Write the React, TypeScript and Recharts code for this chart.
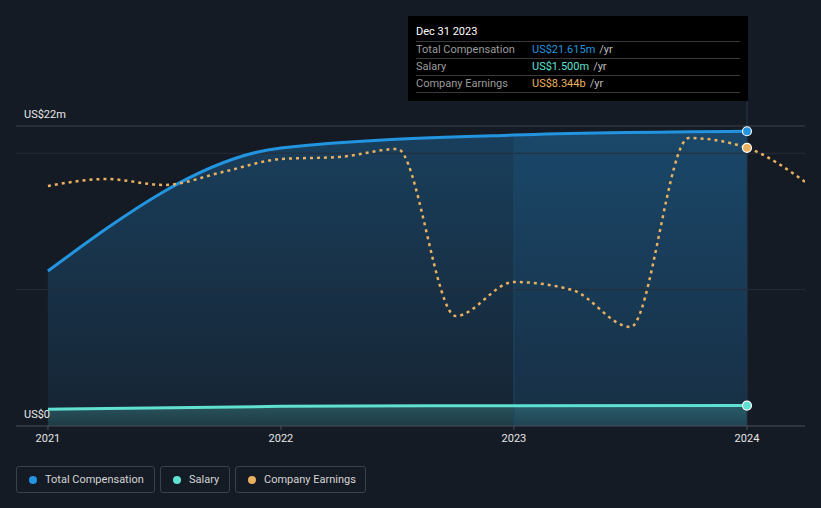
import React from "react";
import { Area, ComposedChart, Line, ReferenceLine, XAxis, YAxis } from "recharts";

// values (comp/salary in US$m, earnings in US$b)
const YEARS = [2021, 2022, 2023, 2024];
const TOTAL_COMP = [11.37, 20.39, 21.34, 21.615];
const SALARY = [1.22, 1.44, 1.49, 1.5];
const EARN_DATES = [
  2021, 2021.25, 2021.5, 2021.75, 2022, 2022.25, 2022.5, 2022.75, 2023, 2023.25, 2023.5, 2023.75, 2024, 2024.25,
];
const EARNINGS = [7.2, 7.41, 7.23, 7.62, 8.01, 8.07, 8.31, 3.3, 4.32, 4.08, 2.97, 8.64, 8.344, 7.32];
const Y_LABELS = [
  { value: 22, text: "US$22m" },
  { value: 0, text: "US$0" },
];
const HIGHLIGHT_FROM = 2023;
const LAST = 2024;

const BG = "#151b25";
const BLUE = "#2394df";
const TEAL = "#5fe0d0";
const ORANGE = "#e9b15f";
const FONT = "Roboto, sans-serif";

type Row = { x: number; comp?: number; compHi?: number; salary?: number; earnings?: number };

const data: Row[] = (() => {
  const map = new Map<number, Row>();
  const get = (x: number) => {
    if (!map.has(x)) map.set(x, { x });
    return map.get(x)!;
  };
  YEARS.forEach((y, i) => {
    const r = get(y);
    r.comp = TOTAL_COMP[i];
    r.salary = SALARY[i];
    if (y >= HIGHLIGHT_FROM) r.compHi = TOTAL_COMP[i];
  });
  EARN_DATES.forEach((d, i) => {
    get(d).earnings = EARNINGS[i];
  });
  return [...map.values()].sort((a, b) => a.x - b.x);
})();

const endDot = (color: string) => (props: any) => {
  const { cx, cy, payload, index } = props;
  if (payload?.x !== LAST || cx == null) return <g key={`d${index}`} />;
  return <circle key={`d${index}`} cx={cx} cy={cy} r={4.5} fill={color} stroke="#ffffff" strokeWidth={1.2} />;
};

// axis value label sitting just above its line, at the left of the plot
const axisLabel = (text: string) => (props: any) => {
  const { viewBox } = props;
  return (
    <text x={viewBox.x + 8} y={viewBox.y - 8} fill="#e8e8e8" fontSize={11} fontFamily={FONT}>
      {text}
    </text>
  );
};

const legendItems = [
  { label: "Total Compensation", color: BLUE, width: 139 },
  { label: "Salary", color: TEAL, width: 70 },
  { label: "Company Earnings", color: ORANGE, width: 131 },
];

const tipRows = [
  { label: "Total Compensation", value: "US$21.615m", color: BLUE },
  { label: "Salary", value: "US$1.500m", color: TEAL },
  { label: "Company Earnings", value: "US$8.344b", color: ORANGE },
];

export default function App() {
  return (
    <div style={{ position: "absolute", left: 0, top: 0, width: 821, height: 508, background: BG, fontFamily: FONT }}>
      <ComposedChart width={821} height={450} data={data} margin={{ top: 100, right: 16, left: 16, bottom: 0 }}>
        <defs>
          <linearGradient id="compGrad" x1="0" y1="0" x2="0" y2="1">
            <stop offset="0%" stopColor={BLUE} stopOpacity={0.3} />
            <stop offset="100%" stopColor={BLUE} stopOpacity={0.07} />
          </linearGradient>
          <linearGradient id="salGrad" x1="0" y1="0" x2="0" y2="1">
            <stop offset="0%" stopColor={TEAL} stopOpacity={0.25} />
            <stop offset="100%" stopColor={TEAL} stopOpacity={0.12} />
          </linearGradient>
        </defs>
        <XAxis
          dataKey="x"
          type="number"
          domain={[2020.863, 2024.249]}
          allowDataOverflow
          ticks={YEARS}
          tickFormatter={(v) => String(v)}
          height={24}
          tick={{ fill: "#e6e6e6", fontSize: 11, fontFamily: FONT }}
          axisLine={{ stroke: "#4a505b" }}
          tickLine={{ stroke: "#4a505b" }}
          tickSize={4}
          tickMargin={4}
        />
        <YAxis yAxisId="m" hide domain={[0, 23.907]} />
        <YAxis yAxisId="b" hide domain={[0, 9.78]} />
        <ReferenceLine yAxisId="m" y={22} stroke="#3a3f4a" />
        <ReferenceLine yAxisId="m" y={20} stroke="#262d38" />
        <ReferenceLine yAxisId="m" y={10} stroke="#262d38" />
        <ReferenceLine yAxisId="m" x={LAST} stroke="#24384d" />
        <Area
          yAxisId="m"
          type="monotoneX"
          dataKey="comp"
          stroke="none"
          fill="url(#compGrad)"
          fillOpacity={1}
          connectNulls
          isAnimationActive={false}
        />
        <Area
          yAxisId="m"
          type="monotoneX"
          dataKey="compHi"
          stroke="none"
          fill={BLUE}
          fillOpacity={0.1}
          connectNulls
          isAnimationActive={false}
        />
        <ReferenceLine
          yAxisId="m"
          segment={[
            { x: HIGHLIGHT_FROM, y: 0 },
            { x: HIGHLIGHT_FROM, y: TOTAL_COMP[2] },
          ]}
          stroke="#1f4866"
        />
        <Area
          yAxisId="m"
          type="monotoneX"
          dataKey="salary"
          stroke="none"
          fill="url(#salGrad)"
          fillOpacity={1}
          connectNulls
          isAnimationActive={false}
        />
        <Line
          yAxisId="m"
          type="monotoneX"
          dataKey="comp"
          stroke={BLUE}
          strokeWidth={3}
          dot={endDot(BLUE)}
          activeDot={false}
          connectNulls
          isAnimationActive={false}
        />
        <Line
          yAxisId="m"
          type="monotoneX"
          dataKey="salary"
          stroke={TEAL}
          strokeWidth={3}
          dot={endDot(TEAL)}
          activeDot={false}
          connectNulls
          isAnimationActive={false}
        />
        <Line
          yAxisId="b"
          type="monotoneX"
          dataKey="earnings"
          stroke={ORANGE}
          strokeWidth={2.5}
          strokeDasharray="3 4"
          dot={endDot(ORANGE)}
          activeDot={false}
          connectNulls
          isAnimationActive={false}
        />
        {Y_LABELS.map((l) => (
          <ReferenceLine
            key={l.text}
            yAxisId="m"
            y={l.value}
            stroke="none"
            label={axisLabel(l.text)}
          />
        ))}
      </ComposedChart>

      <div
        style={{
          position: "absolute",
          left: 408,
          top: 16,
          width: 340,
          height: 85,
          background: "#000",
          padding: "0 8px",
          boxSizing: "border-box",
          fontSize: 11,
        }}
      >
        <div style={{ height: 25, paddingTop: 9, lineHeight: "14px", color: "#fff", boxSizing: "border-box" }}>
          Dec 31 2023
        </div>
        {tipRows.map((r) => (
          <div
            key={r.label}
            style={{ borderTop: "1px solid #3a3a3a", height: 17, lineHeight: "16px", display: "flex", boxSizing: "border-box" }}
          >
            <span style={{ width: 116, color: "#9b9b9b" }}>{r.label}</span>
            <span style={{ color: r.color }}>{r.value}</span>
            <span style={{ color: "#bdbdbd", marginLeft: 4 }}>/yr</span>
          </div>
        ))}
        <div style={{ borderTop: "1px solid #3a3a3a" }} />
      </div>

      <div style={{ position: "absolute", left: 16, top: 466, display: "flex", gap: 5 }}>
        {legendItems.map((it) => (
          <div
            key={it.label}
            style={{
              width: it.width,
              height: 27,
              border: "1px solid #3b404b",
              borderRadius: 3,
              boxSizing: "border-box",
              display: "flex",
              alignItems: "center",
              paddingLeft: 12,
              fontSize: 11,
              color: "#d4d4d4",
            }}
          >
            <span style={{ width: 8, height: 8, borderRadius: 4, background: it.color, marginRight: 8 }} />
            {it.label}
          </div>
        ))}
      </div>
    </div>
  );
}
